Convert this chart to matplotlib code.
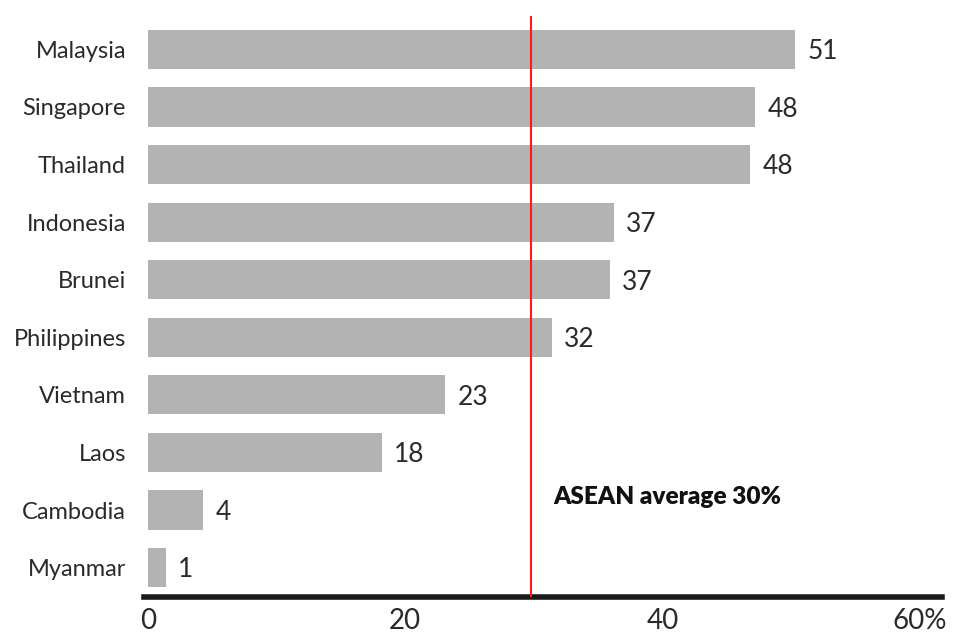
import matplotlib.pyplot as plt
from matplotlib.ticker import FixedLocator, FixedFormatter

# data (top to bottom)
countries = ['Malaysia', 'Singapore', 'Thailand', 'Indonesia', 'Brunei',
             'Philippines', 'Vietnam', 'Laos', 'Cambodia', 'Myanmar']
values = [50.3, 47.2, 46.8, 36.2, 35.9, 31.4, 23.1, 18.2, 4.3, 1.4]
value_labels = ['51', '48', '48', '37', '37', '32', '23', '18', '4', '1']
asean_avg = 29.8
avg_label = 'ASEAN average 30%'
x_ticks = [0, 20, 40, 60]
x_tick_labels = ['0', '20', '40', '60%']

plt.rcParams['font.family'] = ['Lato', 'DejaVu Sans']

fig = plt.figure(figsize=(9.55, 6.37), dpi=100)
ax = fig.add_axes([144 / 955, 1 - 597 / 637, (942 - 144) / 955, (597 - 16) / 637])

n = len(countries)
ypos = [n - 1 - i for i in range(n)]
ax.barh(ypos, values, height=0.68, color='#b3b3b3', zorder=2)

for y, v, lab in zip(ypos, values, value_labels):
    ax.text(v + 0.95, y - 0.04, lab, va='center', ha='left', fontsize=19,
            fontweight='normal', color='#2a2a2a')

ax.axvline(asean_avg, color='#ff1a1a', lw=1.5, zorder=3)
ax.text(31.5, 1.23, avg_label, fontsize=17.6, fontweight='heavy',
        va='center', ha='left', color='#111111')

ax.set_xlim(-0.3, 61.7)
ax.set_ylim(-0.51, n - 1 + 0.58)

ax.set_yticks(ypos)
ax.set_yticklabels(countries, fontsize=17, fontweight='normal', color='#2a2a2a')
ax.xaxis.set_major_locator(FixedLocator(x_ticks))
ax.xaxis.set_major_formatter(FixedFormatter(x_tick_labels))
for t in ax.get_xticklabels():
    t.set_fontsize(20)
    t.set_fontweight('normal')
    t.set_color('#2a2a2a')
ax.tick_params(axis='both', length=0)
ax.tick_params(axis='y', pad=13)
ax.tick_params(axis='x', pad=8)

for s in ['top', 'right', 'left']:
    ax.spines[s].set_visible(False)
ax.spines['bottom'].set_linewidth(4)
ax.spines['bottom'].set_color('#1a1a1a')

fig.savefig('out.png', dpi=100)
